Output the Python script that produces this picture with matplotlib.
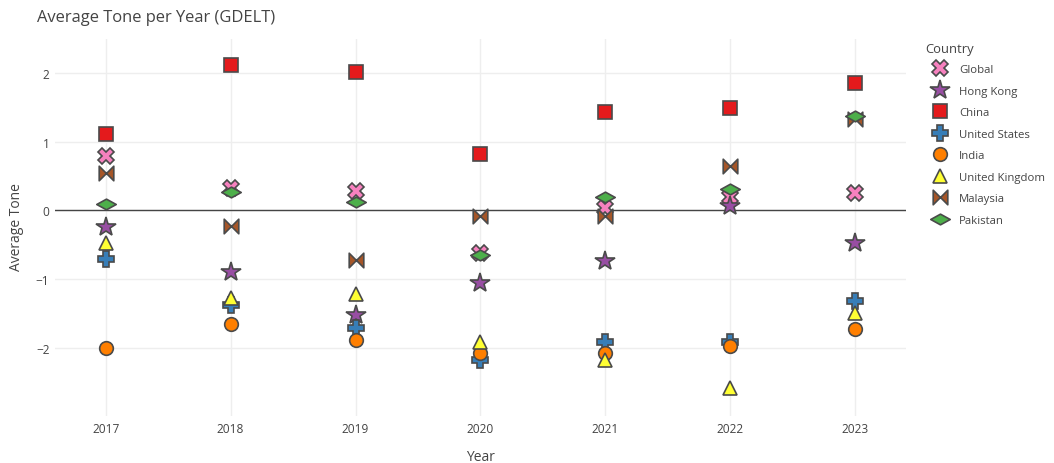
import matplotlib
matplotlib.use("Agg")
import matplotlib.pyplot as plt
from matplotlib.path import Path
import numpy as np

years = [2017, 2018, 2019, 2020, 2021, 2022, 2023]
countries = ["Global", "Hong Kong", "China", "United States", "India",
             "United Kingdom", "Malaysia", "Pakistan"]
global_tone = [0.79, 0.33, 0.29, -0.62, 0.04, 0.19, 0.25]
hong_kong = [-0.24, -0.90, -1.52, -1.05, -0.73, 0.06, -0.47]
china = [1.11, 2.12, 2.01, 0.82, 1.44, 1.49, 1.85]
united_states = [-0.70, -1.38, -1.71, -2.18, -1.91, -1.91, -1.31]
india = [-2.00, -1.65, -1.88, -2.07, -2.07, -1.97, -1.72]
united_kingdom = [-0.47, -1.28, -1.22, -1.91, -2.18, -2.58, -1.49]
malaysia = [0.55, -0.22, -0.72, -0.08, -0.08, 0.64, 1.33]
pakistan = [0.10, 0.27, 0.13, -0.65, 0.19, 0.31, 1.37]
series = [global_tone, hong_kong, china, united_states, india,
          united_kingdom, malaysia, pakistan]
colors = ["#F781BF", "#984EA3", "#E41A1C", "#377EB8", "#FF7F00",
          "#FFFF33", "#A65628", "#4DAF4A"]

bowtie = Path([(-1, -1), (-1, 1), (0, 0), (-1, -1),
               (1, -1), (1, 1), (0, 0), (1, -1)],
              [Path.MOVETO, Path.LINETO, Path.LINETO, Path.CLOSEPOLY,
               Path.MOVETO, Path.LINETO, Path.LINETO, Path.CLOSEPOLY])
diamond_wide = Path([(-1, 0), (0, 0.55), (1, 0), (0, -0.55), (-1, 0)],
                    [Path.MOVETO, Path.LINETO, Path.LINETO, Path.LINETO, Path.CLOSEPOLY])
markers = ["X", "*", "s", "P", "o", "^", bowtie, diamond_wide]
msizes = [11, 15, 10, 11.5, 9.8, 10, 10.5, 14]

plt.rcParams['font.family'] = ['Open Sans', 'DejaVu Sans']
W, H = 1054, 464
fig = plt.figure(figsize=(W / 100, H / 100), dpi=100)
left, right, top, bottom = 55, 906, 40, 417
ax = fig.add_axes([left / W, 1 - bottom / H, (right - left) / W, (bottom - top) / H])

for s in ax.spines.values():
    s.set_visible(False)
ax.set_xlim(2017 - 0.405, 2023 + 0.405)
ax.set_ylim(-2.99, 2.495)
ax.set_xticks(years)
ax.set_yticks([-2, -1, 0, 1, 2])
ax.grid(True, color="#EEEEEE", linewidth=1.0)
ax.set_axisbelow(True)
ax.axhline(0, color="#444444", linewidth=1.0, zorder=1.5)
ax.tick_params(length=0, labelsize=8.6, labelcolor="#444444", pad=4)

for name, vals, col, mk, ms in zip(countries, series, colors, markers, msizes):
    ax.plot(years, vals, linestyle="none", marker=mk, markersize=ms,
            markerfacecolor=col, markeredgecolor="#4A4A4A", markeredgewidth=1.2,
            label=name, zorder=3)

ax.set_xlabel("Year", fontsize=10, color="#444444")
ax.xaxis.set_label_coords(0.5, (bottom - 458) / (bottom - top))
ax.xaxis.label.set_va("center")
ax.set_ylabel("Average Tone", fontsize=10, color="#444444")
ax.yaxis.set_label_coords((17 - left) / (right - left), (bottom - 227) / (bottom - top))
ax.yaxis.label.set_va("center")
fig.text(37 / W, 1 - 18 / H, "Average Tone per Year (GDELT)", fontsize=11.9,
         color="#444444", va="center", ha="left")
fig.text(925 / W, 1 - 50 / H, "Country", fontsize=9.4, color="#444444",
         va="center", ha="left")

leg = ax.legend(loc="upper left", bbox_to_anchor=(926 / W, 1 - 60.8 / H),
                bbox_transform=fig.transFigure, frameon=False,
                fontsize=8.2, labelspacing=0.92,
                handletextpad=0.93, handlelength=1.6, borderaxespad=0)
for t in leg.get_texts():
    t.set_color("#444444")

fig.savefig("out.png", dpi=100)
